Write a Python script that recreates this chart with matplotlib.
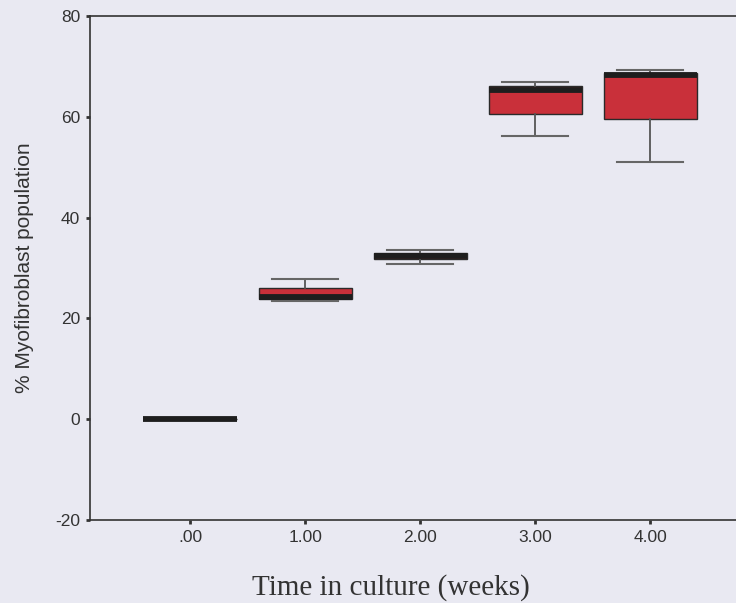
import matplotlib.pyplot as plt

plt.rcParams['axes.unicode_minus'] = False

# Box plot summary values (% myofibroblasts per week)
weeks = [0, 1, 2, 3, 4]
tick_labels = ['.00', '1.00', '2.00', '3.00', '4.00']
whisker_low = [0.0, 23.5, 30.8, 56.2, 51.1]
q1 = [0.0, 23.8, 31.7, 60.6, 59.6]
median = [0.0, 24.2, 32.3, 65.3, 68.2]
q3 = [0.0, 26.0, 33.0, 66.0, 68.7]
whisker_high = [0.0, 27.8, 33.5, 66.9, 69.3]

bg = '#e9e9f2'
fig = plt.figure(figsize=(7.36, 6.03), dpi=100, facecolor=bg)
ax = fig.add_axes([0.1223, 0.1376, 0.897, 0.836], facecolor=bg)

stats = []
for i in range(len(weeks)):
    stats.append({'whislo': whisker_low[i], 'q1': q1[i], 'med': median[i],
                  'q3': q3[i], 'whishi': whisker_high[i], 'fliers': []})

ax.bxp(stats, positions=weeks, widths=0.81, capwidths=0.57, patch_artist=True,
       showfliers=False,
       boxprops=dict(facecolor='#c9303a', edgecolor='#2a2a2a', linewidth=1.0),
       medianprops=dict(color='#1e1e1e', linewidth=4.2, solid_capstyle='butt'),
       whiskerprops=dict(color='#555555', linewidth=1.3),
       capprops=dict(color='#666666', linewidth=1.5))

ax.set_xlim(-0.87, 4.87)
ax.set_ylim(-20, 80)
ax.set_yticks([-20, 0, 20, 40, 60, 80])
ax.set_xticks(weeks)
ax.set_xticklabels(tick_labels)

for s in ax.spines.values():
    s.set_color('#333333')
    s.set_linewidth(1.2)

ax.tick_params(direction='out', length=3, width=2, color='#333333',
               labelsize=12.5, labelcolor='#333333', pad=4)
for lab in ax.get_xticklabels() + ax.get_yticklabels():
    lab.set_family('Liberation Sans')

ax.set_ylabel('% Myofibroblast population', fontsize=15, color='#333333',
              family='Liberation Sans')
ax.yaxis.set_label_coords(-0.085, 0.5)
ax.set_xlabel('Time in culture (weeks)', fontsize=21, color='#333333',
              family='Liberation Serif')
ax.xaxis.set_label_coords(0.456, -0.108)

fig.savefig('out.png', dpi=100, facecolor=bg)
